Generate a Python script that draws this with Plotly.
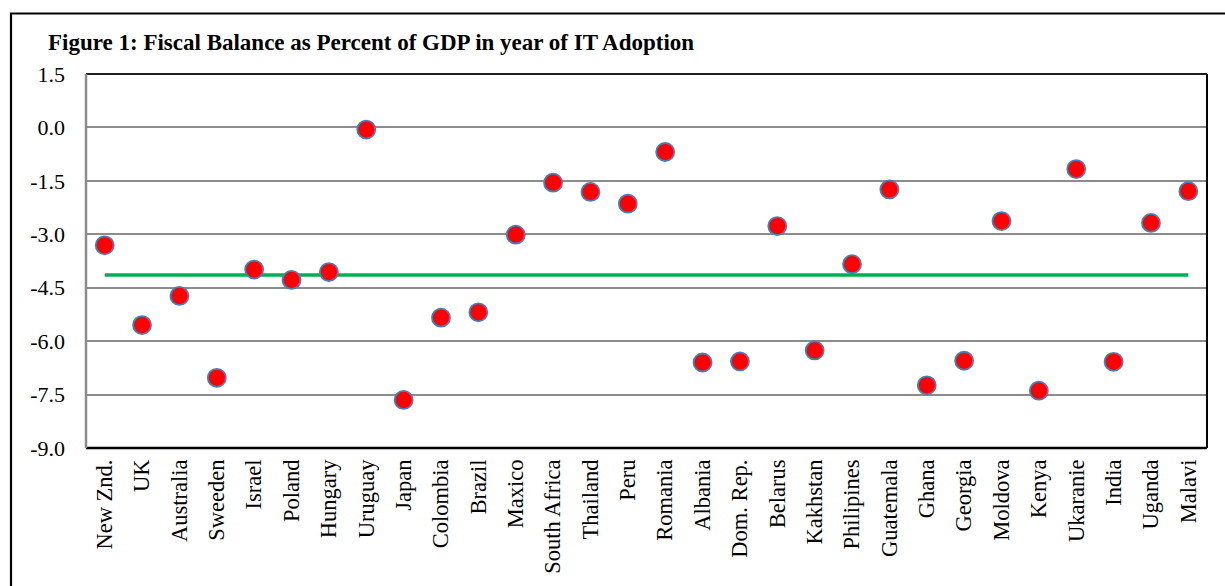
import plotly.graph_objects as go

countries = ["New Znd.", "UK", "Australia", "Sweeden", "Israel", "Poland", "Hungary",
             "Uruguay", "Japan", "Colombia", "Brazil", "Maxico", "South Africa",
             "Thailand", "Peru", "Romania", "Albania", "Dom. Rep.", "Belarus",
             "Kakhstan", "Philipines", "Guatemala", "Ghana", "Georgia", "Moldova",
             "Kenya", "Ukaranie", "India", "Uganda", "Malavi"]
fiscal_balance = [-3.31, -5.55, -4.73, -7.03, -3.99, -4.28, -4.06,
                  -0.06, -7.65, -5.34, -5.19, -3.01, -1.55,
                  -1.81, -2.14, -0.69, -6.60, -6.57, -2.77,
                  -6.26, -3.84, -1.74, -7.24, -6.55, -2.63,
                  -7.39, -1.17, -6.58, -2.68, -1.79]
average_level = -4.14
y_tick_vals = [-9.0, -7.5, -6.0, -4.5, -3.0, -1.5, 0.0, 1.5]
y_tick_text = ["-9.0", "-7.5", "-6.0", "-4.5", "-3.0", "-1.5", "0.0", "1.5"]
title_text = "Figure 1: Fiscal Balance as Percent of GDP in year of IT Adoption"

W, H = 1225, 586
L, R, T, B = 86, 18, 74, 135
pw, ph = W - L - R, H - T - B


def px_x(p):
    return (p - L) / pw


def px_y(p):
    return (H - B - p) / ph


SERIF = "Liberation Serif, Times New Roman, serif"

fig = go.Figure()
fig.add_trace(go.Scatter(
    x=[countries[0], countries[-1]], y=[average_level, average_level],
    mode="lines", line=dict(color="#00B050", width=3.5), hoverinfo="skip",
    showlegend=False))
fig.add_trace(go.Scatter(
    x=countries, y=fiscal_balance, mode="markers",
    marker=dict(size=18, color="#FF0000", line=dict(color="#4A7EBB", width=1.8)),
    showlegend=False))

shapes = [
    # outer frame (left/top visible, extends past page)
    dict(type="rect", xref="paper", yref="paper",
         x0=px_x(11), x1=px_x(W + 10), y0=px_y(H + 10), y1=px_y(13),
         line=dict(color="#000000", width=2.2), fillcolor="rgba(0,0,0,0)", layer="above"),
    # plot frame
    dict(type="line", xref="paper", yref="paper", x0=0, x1=1, y0=1, y1=1,
         line=dict(color="#202020", width=2), layer="above"),
    dict(type="line", xref="paper", yref="paper", x0=1, x1=1, y0=0, y1=1,
         line=dict(color="#000000", width=2), layer="above"),
    dict(type="line", xref="paper", yref="paper", x0=0, x1=1, y0=0, y1=0,
         line=dict(color="#000000", width=2.5), layer="above"),
    dict(type="line", xref="paper", yref="paper", x0=0, x1=0, y0=0, y1=1,
         line=dict(color="#8C8C8C", width=2.5), layer="above"),
]

fig.update_layout(
    width=W, height=H,
    margin=dict(l=L, r=R, t=T, b=B),
    paper_bgcolor="white", plot_bgcolor="white",
    shapes=shapes,
    title=dict(text="<b>" + title_text + "</b>", xref="container", yref="container",
               x=48 / W, xanchor="left", y=1 - 42 / H, yanchor="middle",
               font=dict(family=SERIF, size=23, color="#000000")),
    font=dict(family=SERIF, color="#000000"),
)
fig.update_xaxes(type="category", categoryorder="array", categoryarray=countries,
                 range=[-0.5, len(countries) - 0.5],
                 tickangle=-90, tickfont=dict(family=SERIF, size=22.5, color="#000000"),
                 showgrid=False, showline=False, ticks="", zeroline=False,
                 ticklabelstandoff=6)
fig.update_yaxes(range=[-9.0, 1.5], tickvals=y_tick_vals, ticktext=y_tick_text,
                 tickfont=dict(family=SERIF, size=22, color="#000000"),
                 showgrid=True, gridcolor="#8C8C8C", gridwidth=2,
                 showline=False, zeroline=False, ticks="", ticklabelstandoff=20)

fig.write_html("out.html")
